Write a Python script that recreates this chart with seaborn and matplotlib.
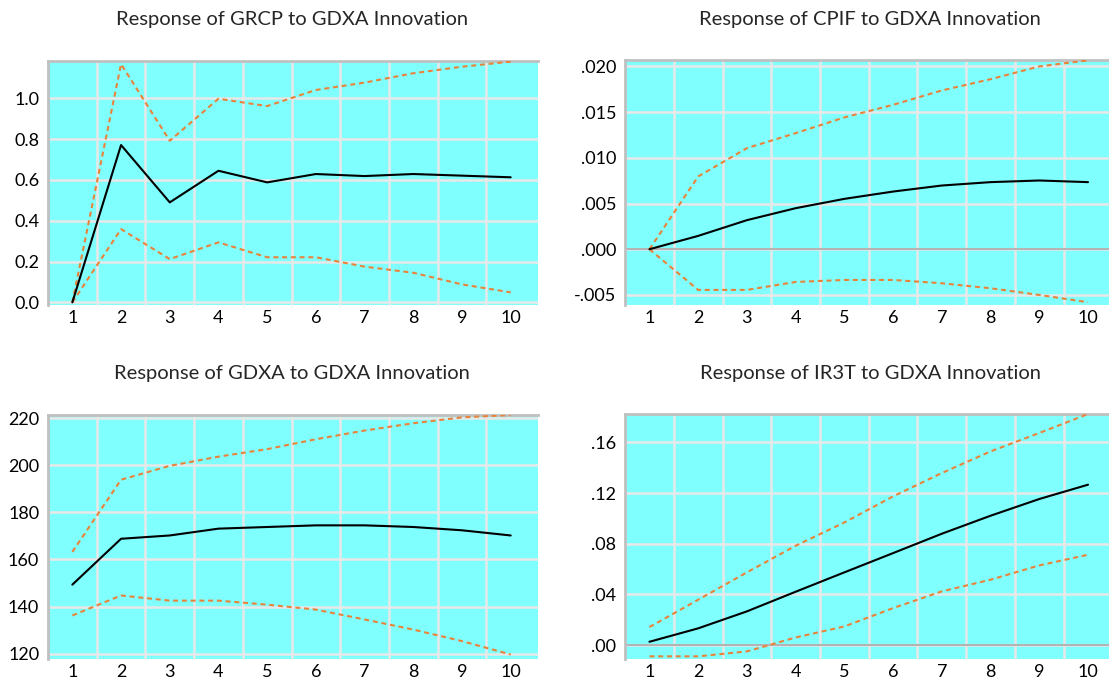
import numpy as np
import pandas as pd
import seaborn as sns
import matplotlib
matplotlib.use("Agg")
import matplotlib.pyplot as plt
from matplotlib.ticker import FuncFormatter, FixedLocator

# Impulse-response horizon
steps = [1, 2, 3, 4, 5, 6, 7, 8, 9, 10]

# Response of GRCP to a GDXA shock (point estimate and +/- 2 S.E. band)
grcp_resp = [0.0, 0.771, 0.49, 0.645, 0.588, 0.629, 0.619, 0.629, 0.621, 0.613]
grcp_upper = [0.0, 1.168, 0.792, 0.998, 0.962, 1.041, 1.077, 1.123, 1.155, 1.18]
grcp_lower = [0.0, 0.359, 0.212, 0.294, 0.221, 0.221, 0.175, 0.145, 0.088, 0.049]

# Response of CPIF
cpif_resp = [0.0, 0.00146, 0.00318, 0.00449, 0.00551, 0.00631, 0.00697, 0.00734, 0.00752, 0.00734]
cpif_upper = [0.0, 0.00796, 0.01106, 0.0127, 0.01442, 0.0158, 0.01737, 0.0186, 0.0200, 0.02066]
cpif_lower = [0.0, -0.00445, -0.00445, -0.00358, -0.00336, -0.00336, -0.00372, -0.00427, -0.0050, -0.0058]

# Response of GDXA
gdxa_resp = [149.3, 168.8, 170.2, 173.1, 173.8, 174.5, 174.5, 173.8, 172.4, 170.2]
gdxa_upper = [163.2, 193.9, 199.8, 203.7, 206.9, 211.1, 214.8, 217.9, 220.4, 221.4]
gdxa_lower = [136.2, 144.7, 142.5, 142.5, 140.8, 138.7, 134.5, 130.2, 125.3, 119.6]

# Response of IR3T
ir3t_resp = [0.0026, 0.0132, 0.0266, 0.0421, 0.0574, 0.0726, 0.0879, 0.1021, 0.1153, 0.1266]
ir3t_upper = [0.0142, 0.0358, 0.0574, 0.0784, 0.0968, 0.1174, 0.1358, 0.1529, 0.1674, 0.1824]
ir3t_lower = [-0.0089, -0.0089, -0.005, 0.006, 0.0147, 0.0292, 0.0424, 0.0516, 0.0629, 0.0713]

titles = [
    "Response of GRCP to GDXA Innovation",
    "Response of CPIF to GDXA Innovation",
    "Response of GDXA to GDXA Innovation",
    "Response of IR3T to GDXA Innovation",
]

grcp_ticks = [0.0, 0.2, 0.4, 0.6, 0.8, 1.0]
cpif_ticks = [-0.005, 0.0, 0.005, 0.010, 0.015, 0.020]
gdxa_ticks = [120, 140, 160, 180, 200, 220]
ir3t_ticks = [0.0, 0.04, 0.08, 0.12, 0.16]

sns.set_style("white", {"axes.facecolor": "#80FFFF"})
plt.rcParams["font.family"] = ["Lato", "DejaVu Sans"]

W, H = 1109, 682
fig = plt.figure(figsize=(W / 100, H / 100), dpi=100)


def dotfmt(decimals):
    def f(v, pos):
        s = f"{v:.{decimals}f}"
        if s.startswith("0."):
            s = s[1:]
        elif s.startswith("-0."):
            s = "-" + s[2:]
        return s
    return FuncFormatter(f)


panels = [
    # (left px, right px, top px, bottom px, data, ylim, yticks, fmt, zero line, xlim right)
    (47.5, 537.5, 61, 305, (grcp_resp, grcp_upper, grcp_lower), (-0.013, 1.183), grcp_ticks,
     FuncFormatter(lambda v, p: f"{v:.1f}"), False, 10.55),
    (624.6, 1109, 60, 305, (cpif_resp, cpif_upper, cpif_lower), (-0.0061, 0.0207), cpif_ticks,
     dotfmt(3), True, 10.43),
    (47.5, 537.5, 415, 659, (gdxa_resp, gdxa_upper, gdxa_lower), (117.7, 221.4), gdxa_ticks,
     FuncFormatter(lambda v, p: f"{v:.0f}"), False, 10.55),
    (624.6, 1109, 414, 659, (ir3t_resp, ir3t_upper, ir3t_lower), (-0.011, 0.1824), ir3t_ticks,
     dotfmt(2), True, 10.43),
]

title_centers = [(292, 19), (870, 19), (292, 373), (870, 373)]

orange = "#E8833A"

for i, (l, r, t, b, series, ylim, yticks, fmt, zero, xr) in enumerate(panels):
    ax = fig.add_axes([l / W, 1 - b / H, (r - l) / W, (b - t) / H])
    resp, upper, lower = series
    df = pd.DataFrame({"step": steps, "resp": resp, "upper": upper, "lower": lower})
    sns.lineplot(data=df, x="step", y="upper", ax=ax, color=orange, lw=1.5,
                 dashes=False, linestyle=(0, (2.4, 1.8)), zorder=3)
    sns.lineplot(data=df, x="step", y="lower", ax=ax, color=orange, lw=1.5,
                 dashes=False, linestyle=(0, (2.4, 1.8)), zorder=3)
    sns.lineplot(data=df, x="step", y="resp", ax=ax, color="black", lw=1.5, zorder=4)

    ax.set_xlim(0.49, xr)
    ax.set_ylim(*ylim)
    ax.xaxis.set_major_locator(FixedLocator(steps))
    ax.xaxis.set_minor_locator(FixedLocator([s + 0.5 for s in steps[:-1]]))
    ax.yaxis.set_major_locator(FixedLocator(yticks))
    ax.yaxis.set_major_formatter(fmt)
    ax.grid(False)
    ax.grid(True, axis="x", which="minor", color="#E8E8E8", lw=1.8, zorder=1)
    ax.grid(True, axis="y", which="major", color="#E8E8E8", lw=1.8, zorder=1)
    ax.set_axisbelow(True)
    if zero:
        ax.axhline(0, color="#B4B4B4", lw=1.5, zorder=2)
    ax.tick_params(axis="both", which="both", length=0, labelsize=13, colors="black")
    ax.tick_params(axis="y", pad=6)
    ax.tick_params(axis="x", pad=3.5)
    ax.set_xlabel("")
    ax.set_ylabel("")
    for side in ("right", "bottom"):
        ax.spines[side].set_visible(False)
    for side in ("top", "left"):
        ax.spines[side].set_visible(True)
        ax.spines[side].set_color("#C0C0C0")
        ax.spines[side].set_linewidth(2.0)
    cx, cy = title_centers[i]
    fig.text(cx / W, 1 - cy / H, titles[i], ha="center", va="center", fontsize=14.5)

fig.savefig("out.png", dpi=100, facecolor="white")
